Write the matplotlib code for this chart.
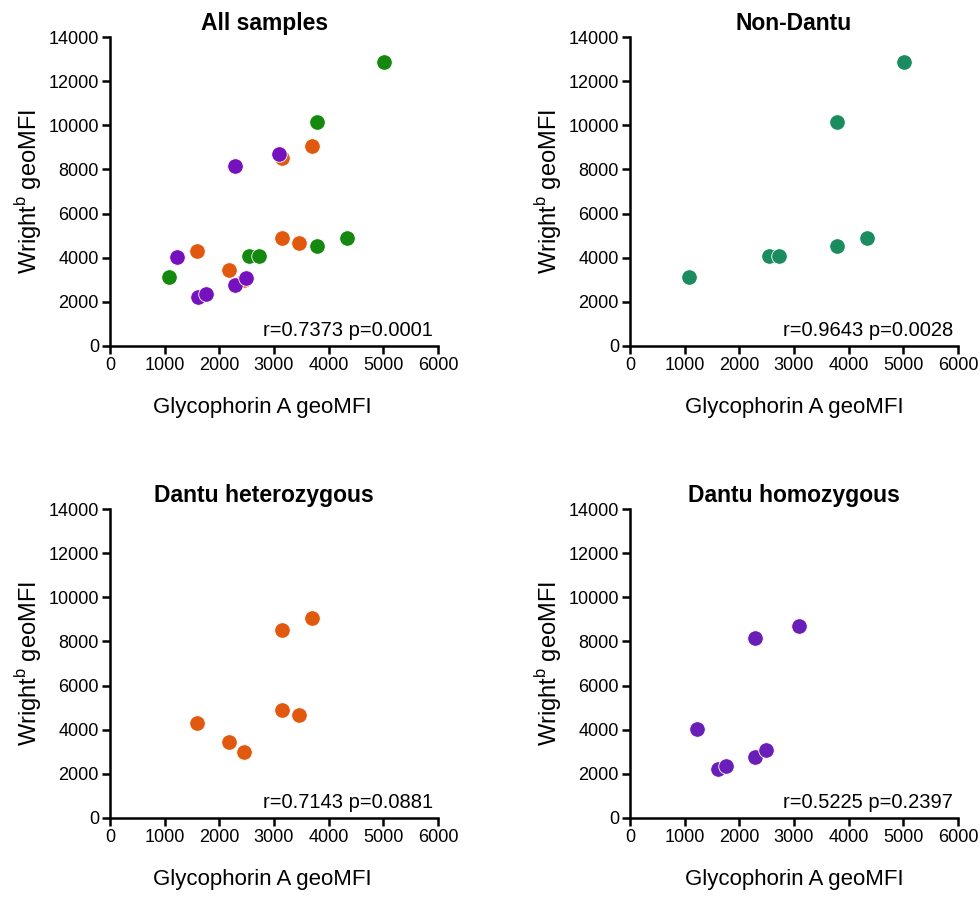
import matplotlib
matplotlib.use("Agg")
import matplotlib.pyplot as plt

plt.rcParams["font.family"] = ["Liberation Sans", "DejaVu Sans"]

GREEN_ALL = "#14880f"
GREEN = "#1b8c60"
ORANGE = "#e0590f"
PURPLE = "#7612bd"
PURPLE_HOM = "#6a1eb8"

# Non-Dantu
non_x = [1080, 2550, 2720, 3790, 4330, 3790, 5020]
non_y = [3110, 4100, 4100, 4530, 4890, 10150, 12870]
# Dantu heterozygous
het_x = [1595, 2185, 2445, 3150, 3460, 3145, 3695]
het_y = [4320, 3450, 2990, 4890, 4670, 8500, 9070]
# Dantu homozygous
hom_x = [1220, 1610, 1750, 2285, 2490, 2285, 3095]
hom_y = [4040, 2215, 2350, 2770, 3080, 8140, 8700]

stats = ["r=0.7373 p=0.0001", "r=0.9643 p=0.0028",
         "r=0.7143 p=0.0881", "r=0.5225 p=0.2397"]
titles = ["All samples", "Non-Dantu", "Dantu heterozygous", "Dantu homozygous"]

fig = plt.figure(figsize=(9.8, 9.0), dpi=100)
W, H = 328 / 980, 309 / 900
boxes = [(110 / 980, 1 - 346 / 900), (630 / 980, 1 - 346 / 900),
         (110 / 980, 1 - 818 / 900), (630 / 980, 1 - 818 / 900)]
axes = [fig.add_axes([l, b, W, H]) for l, b in boxes]


def style(ax, title, stat, left):
    ax.set_xlim(0, 6000)
    ax.set_ylim(0, 14000)
    ax.set_xticks(range(0, 6001, 1000))
    ax.set_yticks(range(0, 14001, 2000))
    for s in ("top", "right"):
        ax.spines[s].set_visible(False)
    for s in ("left", "bottom"):
        ax.spines[s].set_linewidth(1.8)
    ax.tick_params(direction="out", length=6, width=1.8, labelsize=13, pad=2)
    # left column labels sit a little left of the axes centre in the original
    cx = 0.47 if left else 0.5
    ax.set_title(title, fontsize=16.5, fontweight="bold", pad=5, x=cx)
    ax.set_xlabel("Glycophorin A geoMFI", fontsize=16)
    ax.xaxis.set_label_coords(0.465 if left else 0.5, -0.165)
    ax.set_ylabel("Wright$^{\\mathregular{b}}$ geoMFI", fontsize=17)
    ax.yaxis.set_label_coords(-0.20, 0.5)
    ax.text(0.985, 0.02, stat, transform=ax.transAxes, ha="right", va="bottom",
            fontsize=14.5)


kw = dict(s=125, edgecolors="white", linewidths=0.6, zorder=3, clip_on=False)
ax = axes[0]
ax.scatter(non_x, non_y, color=GREEN_ALL, **kw)
ax.scatter(het_x, het_y, color=ORANGE, **kw)
ax.scatter(hom_x, hom_y, color=PURPLE, **kw)
axes[1].scatter(non_x, non_y, color=GREEN, **kw)
axes[2].scatter(het_x, het_y, color=ORANGE, **kw)
axes[3].scatter(hom_x, hom_y, color=PURPLE_HOM, **kw)

for i, (a, t, s) in enumerate(zip(axes, titles, stats)):
    style(a, t, s, i % 2 == 0)

fig.savefig("out.png", dpi=100)
